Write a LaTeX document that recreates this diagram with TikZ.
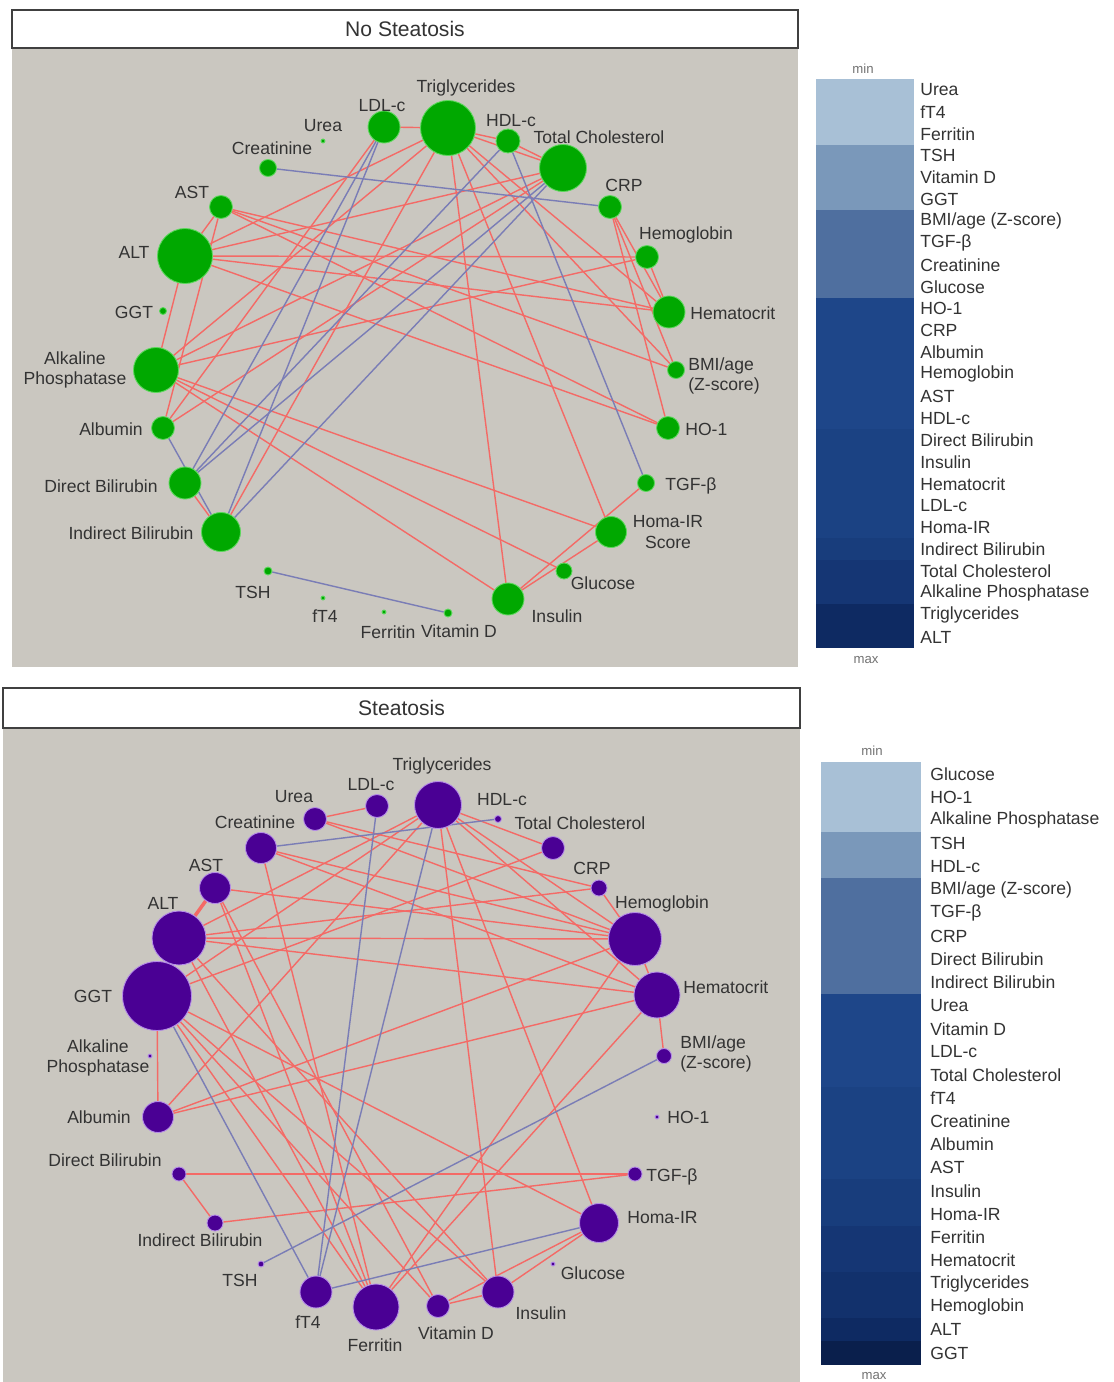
\documentclass[tikz,border=0pt]{standalone}
\usepackage{fontspec}
\setmainfont{Liberation Sans}
\definecolor{panel}{HTML}{CAC7C0}
\definecolor{posline}{HTML}{F46A66}
\definecolor{negline}{HTML}{7A7DB6}
\definecolor{ngreen}{HTML}{00A800}
\definecolor{ngreenrim}{HTML}{5CD85C}
\definecolor{npurple}{HTML}{4A0094}
\definecolor{npurplerim}{HTML}{B58CE8}
\definecolor{labtext}{HTML}{333333}
\definecolor{legA}{HTML}{A8C0D6}
\definecolor{legB}{HTML}{7A98BA}
\definecolor{legC}{HTML}{4F6F9F}
\definecolor{legD}{HTML}{1E4689}
\definecolor{legE}{HTML}{1B4283}
\definecolor{legF}{HTML}{183D7C}
\definecolor{legG}{HTML}{153674}
\definecolor{legH}{HTML}{12316C}
\definecolor{legI}{HTML}{0E2A62}
\definecolor{legJ}{HTML}{0A1F4C}
\pgfdeclarelayer{back}
\pgfdeclarelayer{edges}
\pgfsetlayers{back,edges,main}
\tikzset{
  posedge/.style={draw=posline, line width=0.8pt},
  negedge/.style={draw=negline, line width=0.8pt},
  gn/.style={circle, fill=ngreen, draw=ngreenrim, line width=0.5pt, inner sep=0pt, minimum size=#1},
  pn/.style={circle, fill=npurple, draw=npurplerim, line width=0.5pt, inner sep=0pt, minimum size=#1},
  lab/.style={text=labtext, font=\fontsize{10}{11.5}\selectfont, inner sep=0pt},
  leglab/.style={lab, anchor=west},
  scalelab/.style={text=black!55, font=\fontsize{7.5}{8}\selectfont},
  titlebox/.style={draw=black!75, fill=white, line width=0.8pt, text=labtext, font=\fontsize{12}{14}\selectfont},
}

\begin{document}
\begin{tikzpicture}[x=0.02cm, y=-0.02cm]
  \useasboundingbox (0,0) rectangle (1113,1382);
  \begin{pgfonlayer}{back}
    \fill[white] (0,0) rectangle (1113,1382);
    \fill[panel] (12,48) rectangle (798,667);
    \fill[panel] (3,728) rectangle (800,1382);
  \end{pgfonlayer}

  % ---- no steatosis ----
  \node[titlebox, minimum width=15.72cm, minimum height=0.76cm] (ttitle) at (405,29) {No Steatosis};

  \node[gn=11mm]  (tTG)   at (448,128) {};
  \node[gn=6.4mm] (tLDL)  at (384,127) {};
  \node[gn=0.8mm] (tUrea) at (323,141) {};
  \node[gn=3.4mm] (tCrea) at (268,168) {};
  \node[gn=4.8mm] (tHDL)  at (508,141) {};
  \node[gn=9.4mm] (tTC)   at (563,168) {};
  \node[gn=4.6mm] (tCRP)  at (610,207) {};
  \node[gn=4.6mm] (tAST)  at (221,207) {};
  \node[gn=11mm]  (tALT)  at (185,256) {};
  \node[gn=4.6mm] (tHb)   at (647,257) {};
  \node[gn=1.4mm] (tGGT)  at (163,311) {};
  \node[gn=6.4mm] (tHct)  at (669,312) {};
  \node[gn=9mm]   (tALP)  at (156,370) {};
  \node[gn=3.4mm] (tBMI)  at (676,370) {};
  \node[gn=4.6mm] (tAlb)  at (163,428) {};
  \node[gn=4.6mm] (tHO)   at (668,428) {};
  \node[gn=6.4mm] (tDB)   at (185,483) {};
  \node[gn=3.4mm] (tTGF)  at (646,483) {};
  \node[gn=7.8mm] (tIB)   at (221,532) {};
  \node[gn=6.2mm] (tHoma) at (611,532) {};
  \node[gn=1.6mm] (tTSH)  at (268,571) {};
  \node[gn=3.2mm] (tGlu)  at (564,571) {};
  \node[gn=0.8mm] (tfT4)  at (323,598) {};
  \node[gn=0.8mm] (tFer)  at (384,612) {};
  \node[gn=1.6mm] (tVitD) at (448,613) {};
  \node[gn=6.4mm] (tIns)  at (508,599) {};

  \node[lab] (tTGl)   at (466,88)  {Triglycerides};
  \node[lab] (tLDLl)  at (382,106) {LDL-c};
  \node[lab] (tUreal) at (323,126) {Urea};
  \node[lab] (tCreal) at (272,148) {Creatinine};
  \node[lab] (tHDLl)  at (511,121) {HDL-c};
  \node[lab] (tTCl)   at (599,137) {Total Cholesterol};
  \node[lab] (tCRPl)  at (624,185) {CRP};
  \node[lab] (tASTl)  at (192,192) {AST};
  \node[lab] (tALTl)  at (134,252) {ALT};
  \node[lab] (tHbl)   at (686,235) {Hemoglobin};
  \node[lab] (tGGTl)  at (134,312) {GGT};
  \node[lab, anchor=west] (tHctl) at (690,313) {Hematocrit};
  \node[lab, align=center] (tALPl) at (75,370) {Alkaline\\Phosphatase};
  \node[lab, anchor=west, align=left] (tBMIl) at (688,376) {BMI/age\\(Z-score)};
  \node[lab] (tAlbl)  at (111,429) {Albumin};
  \node[lab, anchor=west] (tHOl) at (685,429) {HO-1};
  \node[lab] (tDBl)   at (101,486) {Direct Bilirubin};
  \node[lab, anchor=west] (tTGFl) at (665,486) {TGF-β};
  \node[lab] (tIBl)   at (131,533) {Indirect Bilirubin};
  \node[lab, align=center] (tHomal) at (668,532) {Homa-IR\\Score};
  \node[lab] (tTSHl)  at (253,592) {TSH};
  \node[lab] (tGlul)  at (603,583) {Glucose};
  \node[lab] (tfT4l)  at (325,616) {fT4};
  \node[lab] (tFerl)  at (388,632) {Ferritin};
  \node[lab] (tVitDl) at (459,631) {Vitamin D};
  \node[lab] (tInsl)  at (557,616) {Insulin};

  \begin{pgfonlayer}{edges}
    \foreach \a/\b in {tAST/tALT, tALT/tALP, tAST/tAlb, tALT/tTG, tALT/tTC, tALT/tHb, tALT/tHct,
        tALT/tHO, tAST/tHO, tAST/tHct, tAST/tBMI, tTG/tLDL, tTG/tHDL, tTG/tTC, tTG/tHct, tTG/tBMI,
        tTG/tHoma, tTG/tIns, tTG/tALP, tTG/tIB, tLDL/tAlb, tTC/tAlb, tTC/tALP, tHDL/tTC, tCRP/tHct,
        tCRP/tHO, tCRP/tBMI, tHb/tHct, tALP/tHoma, tALP/tGlu, tALP/tIns, tALP/tHb, tDB/tIB,
        tTGF/tIns, tHoma/tIns}
      \draw[posedge] (\a) -- (\b);
    \foreach \a/\b in {tCrea/tCRP, tTSH/tVitD, tHDL/tTGF, tLDL/tDB, tLDL/tIB, tHDL/tDB,
        tTC/tDB, tTC/tIB, tAlb/tIB}
      \draw[negedge] (\a) -- (\b);
  \end{pgfonlayer}

  % legend, no steatosis
  \node[scalelab] (tmin) at (863,69) {min};
  \foreach \a/\b/\c in {0/3/legA, 3/6/legB, 6/10/legC, 10/16/legD, 16/21/legE, 21/22/legF, 22/24/legG, 24/26/legI}
    \fill[\c] (816,{79+\a*21.88}) rectangle (914,{79+\b*21.88});
  \foreach \t [count=\i] in {Urea, fT4, Ferritin, TSH, Vitamin D, GGT, BMI/age (Z-score), TGF-β,
      Creatinine, Glucose, HO-1, CRP, Albumin, Hemoglobin, AST, HDL-c, Direct Bilirubin, Insulin,
      Hematocrit, LDL-c, Homa-IR, Indirect Bilirubin, Total Cholesterol, Alkaline Phosphatase,
      Triglycerides, ALT}
    \node[leglab] (tk\i) at (920,{90+(\i-1)*21.88}) {\t};
  \node[scalelab] (tmax) at (866,660) {max};

  % ---- steatosis ----
  \node[titlebox, minimum width=15.94cm, minimum height=0.8cm] (btitle) at (401.5,708) {Steatosis};

  \node[pn=9.4mm]  (bTG)   at (438,805) {};
  \node[pn=4.6mm]  (bLDL)  at (377,806) {};
  \node[pn=4.6mm]  (bUrea) at (315,819) {};
  \node[pn=6.2mm]  (bCrea) at (261,848) {};
  \node[pn=1.4mm]  (bHDL)  at (498,819) {};
  \node[pn=4.6mm]  (bTC)   at (553,848) {};
  \node[pn=3.2mm]  (bCRP)  at (599,888) {};
  \node[pn=6.2mm]  (bAST)  at (215,888) {};
  \node[pn=10.8mm] (bALT)  at (179,938) {};
  \node[pn=10.6mm] (bHb)   at (635,939) {};
  \node[pn=13.8mm] (bGGT)  at (157,996) {};
  \node[pn=9.2mm]  (bHct)  at (657,995) {};
  \node[pn=0.8mm]  (bALP)  at (150,1056) {};
  \node[pn=3mm]    (bBMI)  at (664,1056) {};
  \node[pn=6.2mm]  (bAlb)  at (158,1117) {};
  \node[pn=0.8mm]  (bHO)   at (657,1117) {};
  \node[pn=2.8mm]  (bDB)   at (179,1174) {};
  \node[pn=2.8mm]  (bTGF)  at (635,1174) {};
  \node[pn=3.2mm]  (bIB)   at (215,1223) {};
  \node[pn=7.8mm]  (bHoma) at (599,1223) {};
  \node[pn=1.2mm]  (bTSH)  at (261,1264) {};
  \node[pn=0.8mm]  (bGlu)  at (553,1264) {};
  \node[pn=6.4mm]  (bfT4)  at (316,1292) {};
  \node[pn=9.2mm]  (bFer)  at (376,1307) {};
  \node[pn=4.6mm]  (bVitD) at (438,1306) {};
  \node[pn=6.4mm]  (bIns)  at (498,1292) {};

  \node[lab] (bTGl)   at (442,766)  {Triglycerides};
  \node[lab] (bLDLl)  at (371,785)  {LDL-c};
  \node[lab] (bUreal) at (294,797)  {Urea};
  \node[lab] (bCreal) at (255,822)  {Creatinine};
  \node[lab] (bHDLl)  at (502,800)  {HDL-c};
  \node[lab] (bTCl)   at (580,823)  {Total Cholesterol};
  \node[lab] (bCRPl)  at (592,868)  {CRP};
  \node[lab] (bASTl)  at (206,865)  {AST};
  \node[lab] (bALTl)  at (163,903)  {ALT};
  \node[lab] (bHbl)   at (662,904)  {Hemoglobin};
  \node[lab] (bGGTl)  at (93,996)   {GGT};
  \node[lab, anchor=west] (bHctl) at (683,987) {Hematocrit};
  \node[lab, align=center] (bALPl) at (98,1058) {Alkaline\\Phosphatase};
  \node[lab, anchor=west, align=left] (bBMIl) at (680,1054) {BMI/age\\(Z-score)};
  \node[lab] (bAlbl)  at (99,1117)  {Albumin};
  \node[lab, anchor=west] (bHOl) at (667,1117) {HO-1};
  \node[lab] (bDBl)   at (105,1160) {Direct Bilirubin};
  \node[lab, anchor=west] (bTGFl) at (646,1177) {TGF-β};
  \node[lab] (bIBl)   at (200,1240) {Indirect Bilirubin};
  \node[lab, anchor=west] (bHomal) at (627,1218) {Homa-IR};
  \node[lab] (bTSHl)  at (240,1280) {TSH};
  \node[lab] (bGlul)  at (593,1273) {Glucose};
  \node[lab] (bfT4l)  at (308,1322) {fT4};
  \node[lab] (bFerl)  at (375,1345) {Ferritin};
  \node[lab] (bVitDl) at (456,1333) {Vitamin D};
  \node[lab] (bInsl)  at (541,1313) {Insulin};

  \begin{pgfonlayer}{edges}
    \draw[posedge, line width=2pt] (bAST) -- (bALT);
    \foreach \a/\b in {bLDL/bUrea, bUrea/bCRP, bUrea/bHb, bCrea/bHb, bCrea/bHct, bCrea/bFer,
        bAST/bHb, bAST/bVitD, bAST/bFer, bALT/bTG, bALT/bHb, bALT/bHct, bALT/bCRP, bALT/bFer,
        bALT/bIns, bGGT/bTG, bGGT/bTC, bGGT/bAlb, bGGT/bFer, bGGT/bVitD, bGGT/bIns, bGGT/bHoma,
        bTG/bTC, bTG/bHb, bTG/bHct, bTG/bHoma, bTG/bIns, bTG/bAlb, bCRP/bHb, bHb/bHct, bHct/bBMI,
        bAlb/bHb, bAlb/bHct, bDB/bIB, bDB/bTGF, bIB/bTGF, bFer/bHb, bFer/bHct, bVitD/bIns,
        bVitD/bHoma, bIns/bHoma}
      \draw[posedge] (\a) -- (\b);
    \foreach \a/\b in {bCrea/bHDL, bLDL/bfT4, bTG/bfT4, bGGT/bfT4, bfT4/bHoma, bTSH/bBMI}
      \draw[negedge] (\a) -- (\b);
  \end{pgfonlayer}

  % legend, steatosis
  \node[scalelab] (bmin) at (872,751) {min};
  \foreach \a/\b/\c in {0/3/legA, 3/5/legB, 5/10/legC, 10/14/legD, 14/18/legE, 18/20/legF,
      20/22/legG, 22/24/legH, 24/25/legI, 25/26/legJ}
    \fill[\c] (821,{762.4+\a*23.16}) rectangle (921,{762.4+\b*23.16});
  \foreach \t [count=\i] in {Glucose, HO-1, Alkaline Phosphatase, TSH, HDL-c, BMI/age (Z-score),
      TGF-β, CRP, Direct Bilirubin, Indirect Bilirubin, Urea, Vitamin D, LDL-c, Total Cholesterol,
      fT4, Creatinine, Albumin, AST, Insulin, Homa-IR, Ferritin, Hematocrit, Triglycerides,
      Hemoglobin, ALT, GGT}
    \node[leglab] (bk\i) at (930,{774+(\i-1)*23.16}) {\t};
  \node[scalelab] (bmax) at (874,1376) {max};
\end{tikzpicture}
\end{document}
